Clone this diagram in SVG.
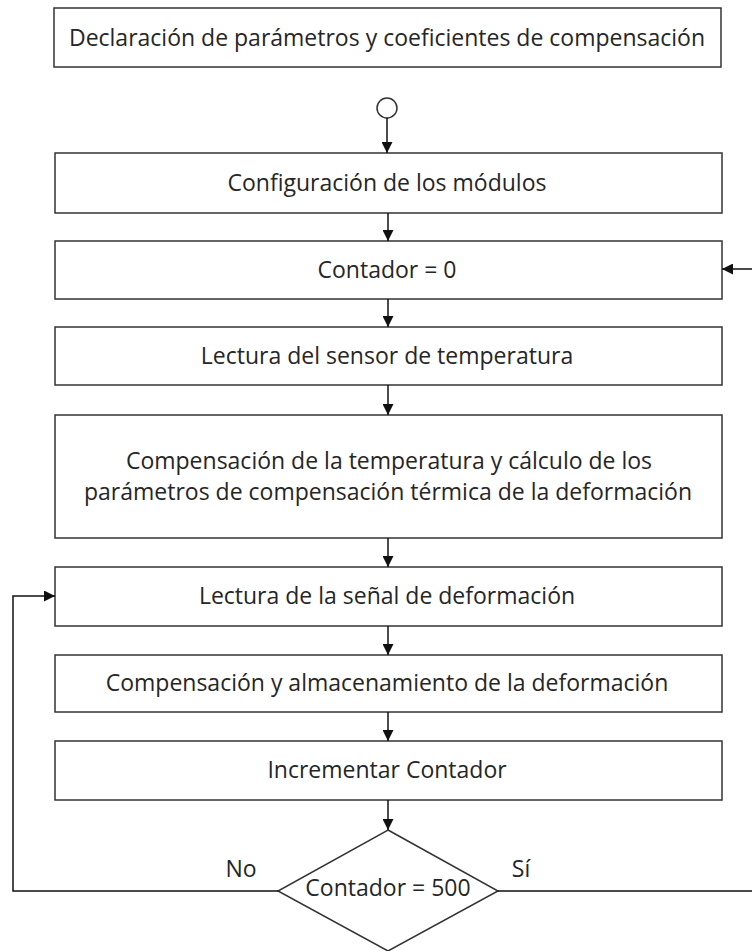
<svg xmlns="http://www.w3.org/2000/svg" width="752" height="951" viewBox="0 0 752 951">
<defs>
<marker id="ah" markerWidth="11" markerHeight="11" refX="10" refY="5" orient="auto" markerUnits="userSpaceOnUse" viewBox="0 0 10 10">
<path d="M0,0 L10,5 L0,10 Z" fill="#111"/>
</marker>
<style>
.box{fill:#fff;stroke:#333;stroke-width:1.5}
.t{font-family:"Open Sans","Noto Sans",sans-serif;font-size:23px;fill:#262626;text-anchor:middle;dominant-baseline:central}
.c{fill:none;stroke:#111;stroke-width:1.5}
</style>
</defs>
<rect width="752" height="951" fill="#fff"/>
<g id="n-decl"><rect class="box" x="54" y="8" width="667" height="59"/><text class="t" x="387" y="37">Declaración de parámetros y coeficientes de compensación</text></g>
<g id="n-start"><circle class="box" cx="387" cy="108" r="10"/></g>
<g id="n-config"><rect class="box" x="55" y="153" width="667" height="60"/><text class="t" x="387" y="182">Configuración de los módulos</text></g>
<g id="n-cont0"><rect class="box" x="55" y="241" width="667" height="58"/><text class="t" x="387" y="269">Contador = 0</text></g>
<g id="n-sensor"><rect class="box" x="55" y="327" width="667" height="58"/><text class="t" x="387" y="355">Lectura del sensor de temperatura</text></g>
<g id="n-comptemp"><rect class="box" x="55" y="415" width="667" height="123"/><text class="t" x="389" y="460">Compensación de la temperatura y cálculo de los</text><text class="t" x="388" y="491">parámetros de compensación térmica de la deformación</text></g>
<g id="n-senal"><rect class="box" x="55" y="567" width="667" height="59"/><text class="t" x="387" y="595">Lectura de la señal de deformación</text></g>
<g id="n-compalm"><rect class="box" x="55" y="655" width="667" height="57"/><text class="t" x="387" y="682">Compensación y almacenamiento de la deformación</text></g>
<g id="n-incr"><rect class="box" x="55" y="741" width="667" height="59"/><text class="t" x="387" y="769">Incrementar Contador</text></g>
<g id="n-dec"><polygon class="box" points="388,830 498,891 388,951 278,891"/><text class="t" x="388" y="887">Contador = 500</text></g>
<g id="connectors">
<line class="c" x1="387" y1="118" x2="387" y2="153" marker-end="url(#ah)"/>
<line class="c" x1="388" y1="213" x2="388" y2="241" marker-end="url(#ah)"/>
<line class="c" x1="388" y1="299" x2="388" y2="327" marker-end="url(#ah)"/>
<line class="c" x1="388" y1="385" x2="388" y2="415" marker-end="url(#ah)"/>
<line class="c" x1="388" y1="538" x2="388" y2="567" marker-end="url(#ah)"/>
<line class="c" x1="388" y1="626" x2="388" y2="655" marker-end="url(#ah)"/>
<line class="c" x1="388" y1="712" x2="388" y2="741" marker-end="url(#ah)"/>
<line class="c" x1="388" y1="800" x2="388" y2="830" marker-end="url(#ah)"/>
<polyline class="c" points="278,891 13,891 13,596 55,596" marker-end="url(#ah)"/>
<polyline class="c" points="498,891 760,891 760,269 722,269" marker-end="url(#ah)"/>
<text class="t" x="241" y="868">No</text>
<text class="t" x="521" y="868">Sí</text>
</g>
</svg>
